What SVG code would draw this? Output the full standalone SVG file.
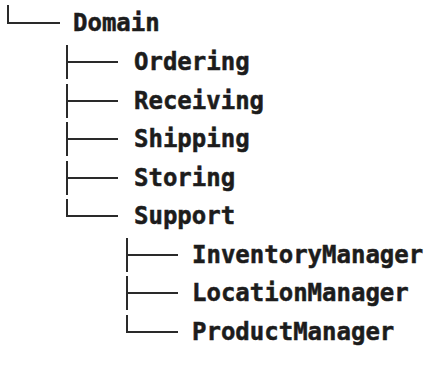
<svg xmlns="http://www.w3.org/2000/svg" width="427" height="378" viewBox="0 0 427 378">
<style>
text{font-family:"DejaVu Sans Mono","Liberation Mono",monospace;font-weight:bold;font-size:24px;fill:#1c1c1c;stroke:#1c1c1c;stroke-width:0.5}
.l{stroke:#2a2a2a;stroke-width:2;fill:none}
</style>
<rect width="427" height="378" fill="#fff"/>
<g id="connectors">
<path class="l" d="M8,5V23H60"/>
<path class="l" d="M67,45V79M67,62H118"/>
<path class="l" d="M67,84V118M67,101H118"/>
<path class="l" d="M67,122V156M67,139H118"/>
<path class="l" d="M67,161V195M67,178H118"/>
<path class="l" d="M67,199V216H118"/>
<path class="l" d="M127,238V272M127,255H178"/>
<path class="l" d="M127,276V310M127,293H178"/>
<path class="l" d="M127,315V332H178"/>
</g>
<g id="domain"><text x="73" y="31">Domain</text></g>
<g id="ordering"><text x="134" y="70">Ordering</text></g>
<g id="receiving"><text x="134" y="109">Receiving</text></g>
<g id="shipping"><text x="134" y="147">Shipping</text></g>
<g id="storing"><text x="134" y="186">Storing</text></g>
<g id="support"><text x="134" y="224">Support</text></g>
<g id="inventorymanager"><text x="192" y="263">InventoryManager</text></g>
<g id="locationmanager"><text x="192" y="301">LocationManager</text></g>
<g id="productmanager"><text x="192" y="340">ProductManager</text></g>
</svg>
